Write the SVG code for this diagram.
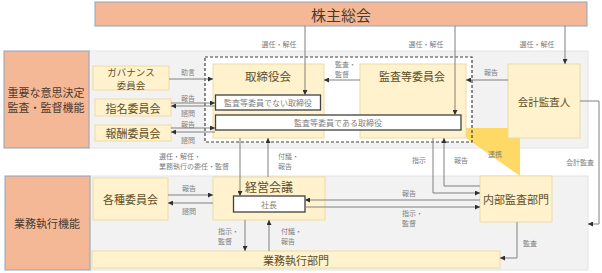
<svg xmlns="http://www.w3.org/2000/svg" width="602" height="273" viewBox="0 0 602 273">
<defs>
<style>
text{font-family:"Noto Sans CJK JP","Noto Sans",sans-serif;}
.band{fill:#F2F2F2;stroke:#E4E4E4;stroke-width:1;}
.org{fill:#F4B897;stroke:#8EA3BE;stroke-width:1;}
.yel{fill:#FFF2CC;stroke:#EEDCA4;stroke-width:1;}
.wht{fill:#FFFFFF;stroke:#404040;stroke-width:1.3;}
.t{fill:#5E4F2A;text-anchor:middle;dominant-baseline:central;}
.to{fill:#4A3B2E;text-anchor:middle;dominant-baseline:central;}
.tw{fill:#7F7F7F;text-anchor:middle;dominant-baseline:central;font-size:8px;}
.lb{fill:#7F7F7F;font-size:7px;dominant-baseline:central;}
.lc{text-anchor:middle;}
.ln{fill:none;stroke:#808080;stroke-width:1;marker-end:url(#ar);}
</style>
<marker id="ar" viewBox="0 0 6 6" refX="6" refY="3" markerWidth="5" markerHeight="5" markerUnits="userSpaceOnUse" orient="auto">
<path d="M0,0 L6,3 L0,6 z" fill="#303030"/>
</marker>
</defs>
<rect width="602" height="273" fill="#FFFFFF"/>
<g id="bands">
<rect class="band" x="89" y="51" width="499" height="97"/>
<rect class="band" x="90" y="176" width="498" height="94"/>
<rect x="205" y="57" width="267" height="85" fill="#FFFFFF"/>
<polygon points="452,128 520,128 520,176" fill="#FFD966"/>
</g>
<g id="shareholders">
<rect class="org" x="95" y="2" width="492" height="24"/>
<text class="to" x="341" y="14" font-size="15">株主総会</text>
</g>
<g id="decision-label">
<rect class="org" x="4" y="51" width="85" height="97"/>
<text class="to" x="46" y="92" font-size="11">重要な意思決定</text>
<text class="to" x="46" y="107" font-size="11">監査・監督機能</text>
</g>
<g id="execution-label">
<rect class="org" x="5" y="176" width="85" height="94"/>
<text class="to" x="47" y="223" font-size="11">業務執行機能</text>
</g>
<g id="governance">
<rect class="yel" x="93" y="66" width="76" height="24"/>
<text class="t" x="131" y="71.5" font-size="9.5">ガバナンス</text>
<text class="t" x="131" y="85" font-size="9.5">委員会</text>
</g>
<g id="nomination">
<rect class="yel" x="95" y="99" width="76" height="17"/>
<text class="t" x="133" y="107.5" font-size="11">指名委員会</text>
</g>
<g id="compensation">
<rect class="yel" x="95" y="125" width="76" height="16"/>
<text class="t" x="133" y="133" font-size="11">報酬委員会</text>
</g>
<g id="board">
<rect class="yel" x="213" y="64" width="111" height="74"/>
<text class="t" x="268" y="76" font-size="11.5">取締役会</text>
</g>
<g id="audit-committee">
<rect class="yel" x="360" y="64" width="106" height="74"/>
<text class="t" x="412" y="76" font-size="11">監査等委員会</text>
</g>
<g id="non-audit-directors">
<rect class="wht" x="215.5" y="95" width="105" height="15"/>
<text class="tw" x="268" y="102.5">監査等委員でない取締役</text>
</g>
<g id="audit-directors">
<rect class="wht" x="215.5" y="115" width="245.5" height="15"/>
<text class="tw" x="338" y="122.5">監査等委員である取締役</text>
</g>
<g id="dashed-frame">
<rect x="205" y="57" width="267" height="85" fill="none" stroke="#404040" stroke-width="1.2" stroke-dasharray="3,2"/>
</g>
<g id="accounting-auditor">
<rect class="yel" x="508" y="64" width="72" height="74"/>
<text class="t" x="544" y="101" font-size="10.5">会計監査人</text>
</g>
<g id="committees">
<rect class="yel" x="93" y="178" width="75" height="42"/>
<text class="t" x="130.5" y="199" font-size="11">各種委員会</text>
</g>
<g id="management">
<rect class="yel" x="213" y="177" width="112" height="43"/>
<text class="t" x="269" y="186" font-size="12">経営会議</text>
</g>
<g id="president">
<rect class="wht" x="233.5" y="196" width="71.5" height="16"/>
<text class="tw" x="269" y="204">社長</text>
</g>
<g id="internal-audit">
<rect class="yel" x="480" y="176" width="72" height="46"/>
<text class="t" x="516" y="199" font-size="11">内部監査部門</text>
</g>
<g id="execution-dept">
<rect class="yel" x="92" y="251" width="408" height="17"/>
<text class="t" x="296" y="259.5" font-size="11">業務執行部門</text>
</g>
<g id="connectors">
<path class="ln" d="M305,26 V95"/>
<path class="ln" d="M455,26 V115"/>
<path class="ln" d="M565,26 V64"/>
<path class="ln" d="M508,80 H466"/>
<path class="ln" d="M360,80 H324"/>
<path class="ln" d="M169,79 H213"/>
<path class="ln" d="M171,103 H215"/>
<path class="ln" d="M215,106 H171"/>
<path class="ln" d="M171,128 H215"/>
<path class="ln" d="M215,132 H171"/>
<path class="ln" d="M240,138 V196"/>
<path class="ln" d="M268,177 V138"/>
<path class="ln" d="M433,138 V193 H480"/>
<path class="ln" d="M480,186 H444 V138"/>
<path class="ln" d="M480,200 H305"/>
<path class="ln" d="M305,207 H480"/>
<path class="ln" d="M245,220 V251"/>
<path class="ln" d="M269,251 V220"/>
<path class="ln" d="M168,195 H213"/>
<path class="ln" d="M213,203 H168"/>
<path class="ln" d="M517,222 V258 H500"/>
<path class="ln" d="M580,101 H599 V224 H588"/>
</g>
<g id="labels">
<text class="lb lc" x="279" y="44">選任・解任</text>
<text class="lb lc" x="426" y="44">選任・解任</text>
<text class="lb lc" x="537" y="44">選任・解任</text>
<text class="lb lc" x="491" y="72">報告</text>
<text class="lb" x="335" y="64">監査・</text>
<text class="lb" x="335" y="74">監督</text>
<text class="lb lc" x="188" y="72">助言</text>
<text class="lb lc" x="188" y="97.5">報告</text>
<text class="lb lc" x="188" y="113">諮問</text>
<text class="lb lc" x="188" y="123.5">報告</text>
<text class="lb lc" x="188" y="140">諮問</text>
<text class="lb" x="159" y="156">選任・解任・</text>
<text class="lb" x="159" y="166">業務執行の委任・監督</text>
<text class="lb" x="278" y="156">付議・</text>
<text class="lb" x="278" y="166">報告</text>
<text class="lb lc" x="419" y="160">指示</text>
<text class="lb lc" x="461" y="160">報告</text>
<text class="lb lc" x="495" y="154">連携</text>
<text class="lb lc" x="580" y="162">会計監査</text>
<text class="lb lc" x="409" y="193">報告</text>
<text class="lb" x="402" y="213">指示・</text>
<text class="lb" x="402" y="223">監督</text>
<text class="lb lc" x="189" y="188">報告</text>
<text class="lb lc" x="189" y="211">諮問</text>
<text class="lb" x="218" y="231">指示・</text>
<text class="lb" x="218" y="241">監督</text>
<text class="lb" x="281" y="231">付議・</text>
<text class="lb" x="281" y="241">報告</text>
<text class="lb lc" x="530" y="243">監査</text>
</g>
</svg>
